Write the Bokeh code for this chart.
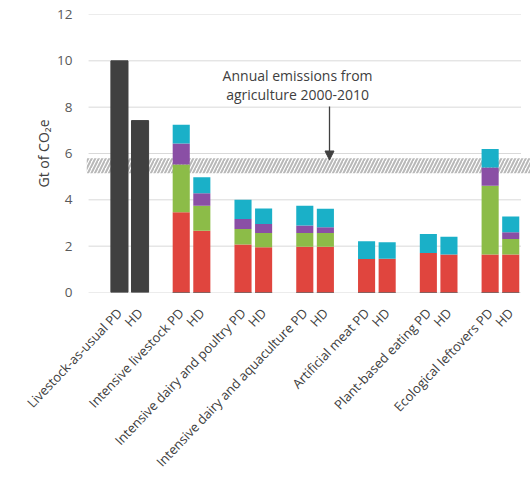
import math
from bokeh.plotting import figure
from bokeh.models import ColumnDataSource, FixedTicker, Arrow, NormalHead
from bokeh.core.properties import value
from bokeh.embed import file_html
from bokeh.resources import INLINE

# ---- data ----
scenarios = ["Livestock-as-usual", "Intensive livestock", "Intensive dairy and poultry",
             "Intensive dairy and aquaculture", "Artificial meat", "Plant-based eating",
             "Ecological leftovers"]
diets = ["PD", "HD"]
baseline = [10.0, 7.42, 0, 0, 0, 0, 0, 0, 0, 0, 0, 0, 0, 0]
red = [0, 0, 3.46, 2.67, 2.07, 1.95, 1.97, 1.97, 1.45, 1.46, 1.70, 1.64, 1.64, 1.64]
green = [0, 0, 2.06, 1.08, 0.67, 0.62, 0.60, 0.60, 0, 0, 0, 0, 2.97, 0.67]
purple = [0, 0, 0.91, 0.53, 0.43, 0.39, 0.32, 0.25, 0, 0, 0, 0, 0.79, 0.29]
cyan = [0, 0, 0.81, 0.69, 0.83, 0.67, 0.86, 0.79, 0.76, 0.71, 0.83, 0.77, 0.79, 0.68]
yticks = [0, 2, 4, 6, 8, 10, 12]
band_low, band_high = 5.15, 5.8
annotation_lines = ["Annual emissions from", "agriculture 2000-2010"]

# ---- positions: 3 slots per scenario (blank, PD, HD) ----
xs = []
labels = []
for g, s in enumerate(scenarios):
    for d, diet in enumerate(diets):
        xs.append(3 * g + 1.5 + d)
        labels.append(f"{s} {diet}" if d == 0 else diet)
n_slots = 3 * len(scenarios)

src = ColumnDataSource(dict(x=xs, baseline=baseline, red=red, green=green,
                            purple=purple, cyan=cyan))

W, H = 530, 479
TOP, FRAME_H = 14, 278
p = figure(width=W, height=H, output_backend="svg", toolbar_location=None,
           x_range=(-0.1, n_slots + 0.46), y_range=(0, 12),
           min_border_left=86, min_border_right=0, min_border_top=TOP,
           min_border_bottom=H - TOP - FRAME_H)
p.outline_line_color = None
p.background_fill_color = "white"
p.xgrid.visible = False
p.ygrid.visible = False

# grid lines (drawn to the chart's slot extent)
p.segment(x0=[0] * len(yticks), x1=[n_slots] * len(yticks), y0=yticks, y1=yticks,
          line_color="#d9d9d9", line_width=1)

# hatched band
p.quad(left=[-0.1], right=[n_slots + 0.46], bottom=[band_low], top=[band_high],
       fill_color=None, line_color=None, hatch_pattern="/", hatch_color="#b8b8b8",
       hatch_scale=7, hatch_weight=2)

bw = 0.83
p.vbar(x="x", top="baseline", width=bw, source=src, color="#404040")
p.vbar_stack(["red", "green", "purple", "cyan"], x="x", width=bw, source=src,
             color=["#e0453e", "#8cbc48", "#8a4fa5", "#1ab0c8"], line_color=None)

# annotation
ax_x = 10.15
p.text(x=[ax_x, ax_x], y=[9.37, 8.55], text=annotation_lines, text_align="center",
       text_baseline="middle", text_font=value("Open Sans"), text_font_size="14px",
       text_color="#404040")
p.add_layout(Arrow(end=NormalHead(size=9, fill_color="#404040", line_color="#404040"),
                   x_start=11.7, y_start=8.03, x_end=11.7, y_end=5.72,
                   line_color="#404040", line_width=1.3))

# axes
p.yaxis.ticker = FixedTicker(ticks=yticks)
p.yaxis.axis_line_color = None
p.yaxis.major_tick_line_color = None
p.yaxis.major_tick_out = 0
p.yaxis.major_tick_in = 0
p.yaxis.minor_tick_line_color = None
p.yaxis.major_label_standoff = 14
p.yaxis.major_label_text_font = "Open Sans"
p.yaxis.major_label_text_font_size = "13.5px"
p.yaxis.major_label_text_color = "#595959"
p.yaxis.axis_label = "Gt of CO₂e"
p.yaxis.axis_label_text_font = "Open Sans"
p.yaxis.axis_label_text_font_size = "14px"
p.yaxis.axis_label_text_font_style = "normal"
p.yaxis.axis_label_text_color = "#404040"
p.yaxis.axis_label_standoff = 1

p.xaxis.ticker = FixedTicker(ticks=xs)
p.xaxis.major_label_overrides = {x: l for x, l in zip(xs, labels)}
p.xaxis.major_label_orientation = 0.81
p.xaxis.axis_line_color = None
p.xaxis.major_tick_line_color = None
p.xaxis.major_tick_out = 0
p.xaxis.major_tick_in = 0
p.xaxis.minor_tick_line_color = None
p.xaxis.major_label_standoff = 18
p.xaxis.major_label_text_font = "Open Sans"
p.xaxis.major_label_text_font_size = "13px"
p.xaxis.major_label_text_color = "#404040"

open("out.html", "w").write(file_html(p, INLINE))
